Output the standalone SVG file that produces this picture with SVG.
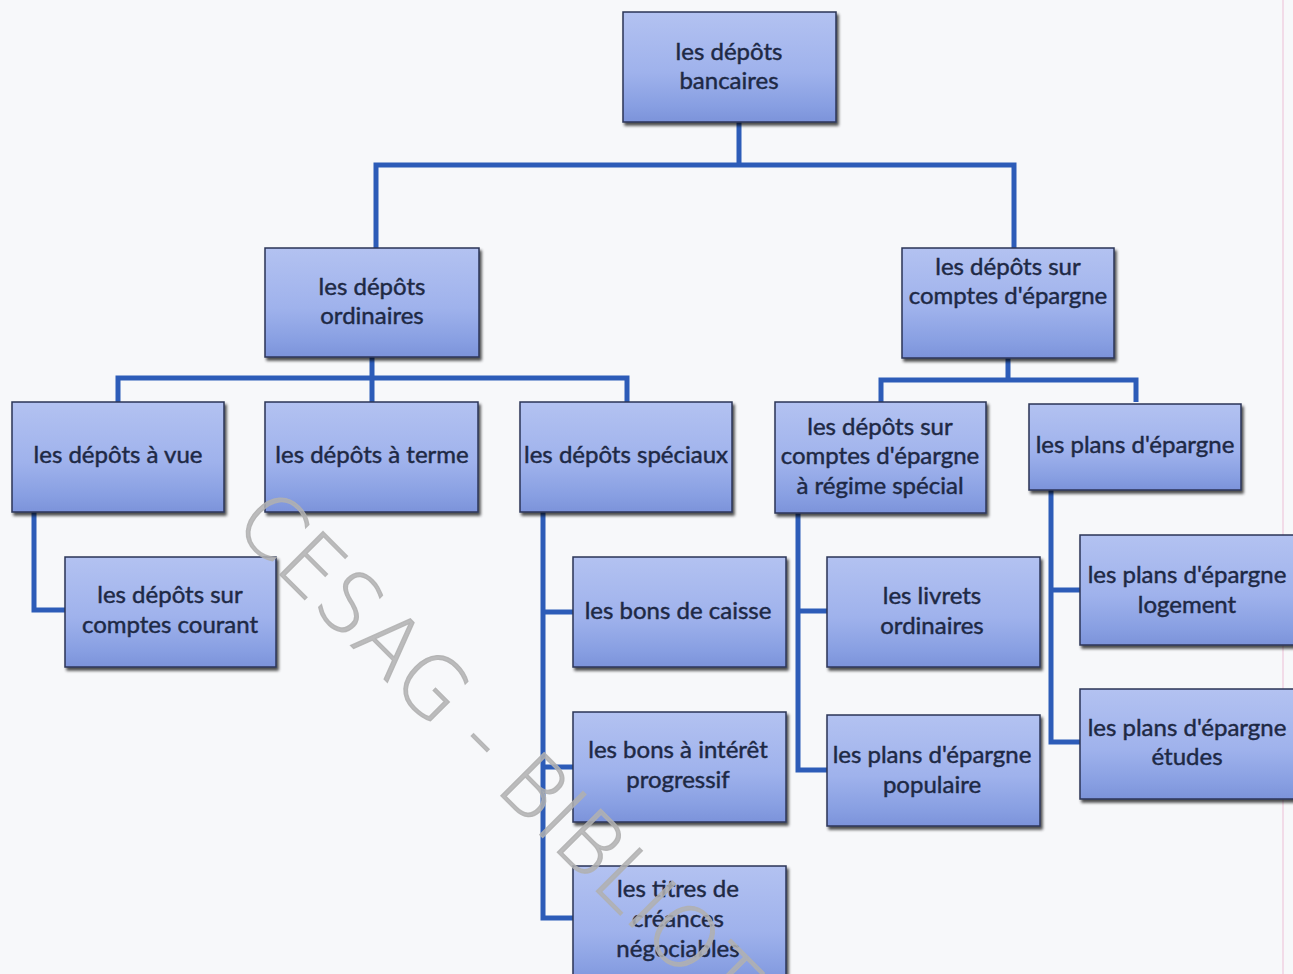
<svg xmlns="http://www.w3.org/2000/svg" width="1293" height="974" viewBox="0 0 1293 974">
<defs>
<linearGradient id="bg" x1="0" y1="0" x2="0" y2="1">
<stop offset="0" stop-color="#b3c2f1"/>
<stop offset="0.55" stop-color="#9fb2ec"/>
<stop offset="0.85" stop-color="#889fe2"/>
<stop offset="1" stop-color="#7c93da"/>
</linearGradient>
<filter id="sh" x="-5%" y="-5%" width="115%" height="120%">
<feGaussianBlur in="SourceAlpha" stdDeviation="1.5"/>
<feOffset dx="2" dy="3" result="o"/>
<feComponentTransfer><feFuncA type="linear" slope="0.7"/></feComponentTransfer>
<feMerge><feMergeNode/><feMergeNode in="SourceGraphic"/></feMerge>
</filter>
</defs>
<style>
.box{fill:url(#bg);stroke:#2b3557;stroke-width:1.5;filter:url(#sh)}
.t{font-family:Lato,"Open Sans","Liberation Sans",sans-serif;font-size:24px;fill:#1e2945;stroke:#1e2945;stroke-width:0.45;text-anchor:middle}
.c{fill:none;stroke:#2d5cb8;stroke-width:5;stroke-linejoin:miter}
.wm{font-family:"DejaVu Sans","Liberation Sans",sans-serif;font-weight:200;font-size:84px;fill:#b0b0b0;stroke:#b0b0b0;stroke-width:1.2;fill-opacity:0.85;stroke-opacity:0.85}
</style>
<rect width="1293" height="974" fill="#f7f8fa"/>
<line x1="1283" y1="0" x2="1283" y2="974" stroke="#f2dbe8" stroke-width="2"/>
<g id="connectors">
<path class="c" d="M739 122V165M376 248V165H1014V248"/>
<path class="c" d="M372 357V378M118 402V378H627V402M372 378V402"/>
<path class="c" d="M1008 358V380M881 402V380H1136V402"/>
<path class="c" d="M34 512V610H65"/>
<path class="c" d="M543 512V918H573M543 612H573M543 767H573"/>
<path class="c" d="M798 513V770H827M798 611H827"/>
<path class="c" d="M1051 490V742H1080M1051 590H1080"/>
</g>
<g id="n-root"><rect class="box" x="623" y="12" width="213" height="110"/><text class="t" x="729" y="60">les dépôts</text><text class="t" x="729" y="89">bancaires</text></g>
<g id="n-ordinaires"><rect class="box" x="265" y="248" width="214" height="109"/><text class="t" x="372" y="295">les dépôts</text><text class="t" x="372" y="324">ordinaires</text></g>
<g id="n-epargne"><rect class="box" x="902" y="248" width="212" height="110"/><text class="t" x="1008" y="275">les dépôts sur</text><text class="t" x="1008" y="304">comptes d'épargne</text></g>
<g id="n-vue"><rect class="box" x="12" y="402" width="212" height="110"/><text class="t" x="118" y="463">les dépôts à vue</text></g>
<g id="n-terme"><rect class="box" x="265" y="402" width="213" height="110"/><text class="t" x="372" y="463">les dépôts à terme</text></g>
<g id="n-speciaux"><rect class="box" x="520" y="402" width="212" height="110"/><text class="t" x="626" y="463">les dépôts spéciaux</text></g>
<g id="n-regime"><rect class="box" x="775" y="402" width="211" height="111"/><text class="t" x="880" y="435">les dépôts sur</text><text class="t" x="880" y="464">comptes d'épargne</text><text class="t" x="880" y="494">à régime spécial</text></g>
<g id="n-plans"><rect class="box" x="1029" y="404" width="212" height="86"/><text class="t" x="1135" y="453">les plans d'épargne</text></g>
<g id="n-courant"><rect class="box" x="65" y="557" width="211" height="110"/><text class="t" x="170" y="603">les dépôts sur</text><text class="t" x="170" y="633">comptes courant</text></g>
<g id="n-caisse"><rect class="box" x="573" y="557" width="213" height="110"/><text class="t" x="678" y="619">les bons de caisse</text></g>
<g id="n-interet"><rect class="box" x="573" y="712" width="213" height="110"/><text class="t" x="678" y="758">les bons à intérêt</text><text class="t" x="678" y="788">progressif</text></g>
<g id="n-titres"><rect class="box" x="573" y="866" width="213" height="120"/><text class="t" x="678" y="897">les titres de</text><text class="t" x="678" y="927">créances</text><text class="t" x="678" y="957">négociables</text></g>
<g id="n-livrets"><rect class="box" x="827" y="557" width="213" height="110"/><text class="t" x="932" y="604">les livrets</text><text class="t" x="932" y="634">ordinaires</text></g>
<g id="n-populaire"><rect class="box" x="827" y="715" width="213" height="111"/><text class="t" x="932" y="763">les plans d'épargne</text><text class="t" x="932" y="793">populaire</text></g>
<g id="n-logement"><rect class="box" x="1080" y="535" width="216" height="110"/><text class="t" x="1187" y="583">les plans d'épargne</text><text class="t" x="1187" y="613">logement</text></g>
<g id="n-etudes"><rect class="box" x="1080" y="689" width="216" height="110"/><text class="t" x="1187" y="736">les plans d'épargne</text><text class="t" x="1187" y="765">études</text></g>
<text class="wm" transform="translate(231 526) rotate(45)">CESAG - BIBLIOT</text>
</svg>
